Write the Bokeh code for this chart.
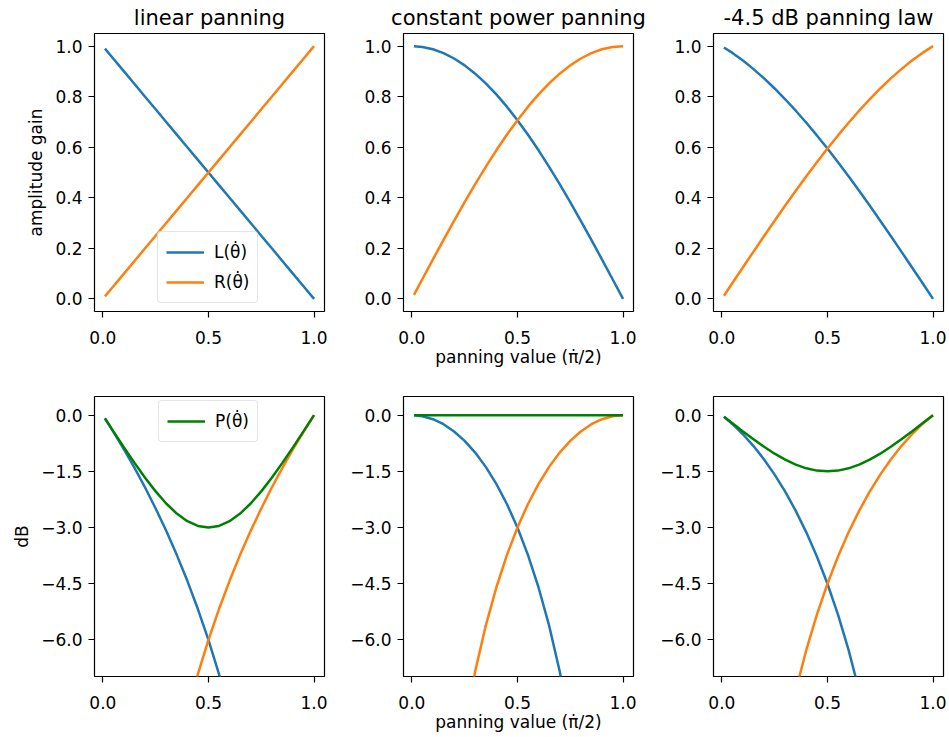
from bokeh.plotting import figure
from bokeh.layouts import column, row
from bokeh.models import FixedTicker, Legend, LegendItem
from bokeh.embed import file_html
from bokeh.resources import INLINE

nan = float("nan")

# panning value (x axis, in units of pi/2)
pan = [0.01, 0.05, 0.10, 0.15, 0.20, 0.25, 0.30, 0.35, 0.40, 0.45, 0.50,
       0.55, 0.60, 0.65, 0.70, 0.75, 0.80, 0.85, 0.90, 0.95, 1.00]

# amplitude gains (top row)
lin_L = [0.99, 0.95, 0.90, 0.85, 0.80, 0.75, 0.70, 0.65, 0.60, 0.55, 0.50,
         0.45, 0.40, 0.35, 0.30, 0.25, 0.20, 0.15, 0.10, 0.05, 0.00]
lin_R = [0.01, 0.05, 0.10, 0.15, 0.20, 0.25, 0.30, 0.35, 0.40, 0.45, 0.50,
         0.55, 0.60, 0.65, 0.70, 0.75, 0.80, 0.85, 0.90, 0.95, 1.00]
cp_L = [0.9999, 0.9969, 0.9877, 0.9724, 0.9511, 0.9239, 0.8910, 0.8526, 0.8090, 0.7604, 0.7071,
        0.6494, 0.5878, 0.5225, 0.4540, 0.3827, 0.3090, 0.2335, 0.1564, 0.0785, 0.0000]
cp_R = [0.0157, 0.0785, 0.1564, 0.2335, 0.3090, 0.3827, 0.4540, 0.5225, 0.5878, 0.6494, 0.7071,
        0.7604, 0.8090, 0.8526, 0.8910, 0.9239, 0.9511, 0.9724, 0.9877, 0.9969, 1.0000]
law_L = [0.9949, 0.9732, 0.9428, 0.9091, 0.8723, 0.8324, 0.7898, 0.7445, 0.6967, 0.6467, 0.5946,
         0.5406, 0.4849, 0.4276, 0.3691, 0.3093, 0.2486, 0.1871, 0.1251, 0.0626, 0.0000]
law_R = [0.0125, 0.0626, 0.1251, 0.1871, 0.2486, 0.3093, 0.3691, 0.4276, 0.4849, 0.5406, 0.5946,
         0.6467, 0.6967, 0.7445, 0.7898, 0.8324, 0.8723, 0.9091, 0.9428, 0.9732, 1.0000]

# levels in dB (bottom row)
lin_L_db = [-0.087, -0.446, -0.915, -1.412, -1.938, -2.499, -3.098, -3.742, -4.437, -5.193, -6.021,
            -6.936, -7.959, -9.119, -10.458, -12.041, -13.979, -16.478, -20.0, -26.021, nan]
lin_R_db = [-40.0, -26.021, -20.0, -16.478, -13.979, -12.041, -10.458, -9.119, -7.959, -6.936, -6.021,
            -5.193, -4.437, -3.742, -3.098, -2.499, -1.938, -1.412, -0.915, -0.446, 0.0]
lin_P_db = [-0.087, -0.434, -0.862, -1.278, -1.675, -2.041, -2.366, -2.636, -2.840, -2.967, -3.010,
            -2.967, -2.840, -2.636, -2.366, -2.041, -1.675, -1.278, -0.862, -0.434, 0.0]
cp_L_db = [-0.001, -0.027, -0.108, -0.243, -0.436, -0.688, -1.002, -1.385, -1.841, -2.379, -3.010,
           -3.749, -4.616, -5.638, -6.859, -8.343, -10.200, -12.636, -16.114, -22.107, nan]
cp_R_db = [-36.078, -22.107, -16.114, -12.636, -10.200, -8.343, -6.859, -5.638, -4.616, -3.749, -3.010,
           -2.379, -1.841, -1.385, -1.002, -0.688, -0.436, -0.243, -0.108, -0.027, 0.0]
cp_P_db = [0.0, 0.0, 0.0, 0.0, 0.0, 0.0, 0.0, 0.0, 0.0, 0.0, 0.0,
           0.0, 0.0, 0.0, 0.0, 0.0, 0.0, 0.0, 0.0, 0.0, 0.0]
law_L_db = [-0.044, -0.236, -0.511, -0.828, -1.187, -1.593, -2.050, -2.563, -3.139, -3.786, -4.516,
            -5.342, -6.287, -7.379, -8.658, -10.192, -12.090, -14.557, -18.057, -24.064, nan]
law_R_db = [-38.039, -24.064, -18.057, -14.557, -12.090, -10.192, -8.658, -7.379, -6.287, -5.342, -4.516,
            -3.786, -3.139, -2.563, -2.050, -1.593, -1.187, -0.828, -0.511, -0.236, 0.0]
law_P_db = [-0.044, -0.218, -0.436, -0.647, -0.848, -1.032, -1.192, -1.325, -1.424, -1.485, -1.505,
            -1.485, -1.424, -1.325, -1.192, -1.032, -0.848, -0.647, -0.436, -0.218, 0.0]

titles = ["linear panning", "constant power panning", "-4.5 dB panning law"]
x_ticks = [0.0, 0.5, 1.0]
x_tick_labels = ["0.0", "0.5", "1.0"]
gain_ticks = [0.0, 0.2, 0.4, 0.6, 0.8, 1.0]
gain_tick_labels = ["0.0", "0.2", "0.4", "0.6", "0.8", "1.0"]
db_ticks = [0.0, -1.5, -3.0, -4.5, -6.0]
db_tick_labels = ["0.0", "\u22121.5", "\u22123.0", "\u22124.5", "\u22126.0"]
x_label = "panning value (\u03c0\u0307/2)"
label_L = "L(\u03b8\u0307)"
label_R = "R(\u03b8\u0307)"
label_P = "P(\u03b8\u0307)"

C_L = "#1f77b4"
C_R = "#ff7f0e"
C_P = "#008000"
FONT = "DejaVu Sans"
FW, FH = 230, 280
LW = 2.5


def make_fig(left, right, top, bottom, y_range, yt, ytl, title=None, xlabel=None, ylabel=None):
    p = figure(width=left + FW + right, height=top + FH + bottom,
               x_range=(-0.0395, 1.0495), y_range=y_range,
               output_backend="svg", toolbar_location=None,
               min_border_left=left, min_border_right=right,
               min_border_top=top, min_border_bottom=bottom)
    p.grid.visible = False
    p.outline_line_color = "black"
    p.outline_line_width = 1.2
    p.outline_line_alpha = 1.0
    p.background_fill_color = "white"
    p.border_fill_color = "white"
    for ax, ticks, labels in ((p.xaxis, x_ticks, x_tick_labels), (p.yaxis, yt, ytl)):
        ax.ticker = FixedTicker(ticks=ticks)
        ax.major_label_overrides = {t: l for t, l in zip(ticks, labels)}
        ax.axis_line_color = None
        ax.major_tick_line_color = "black"
        ax.major_tick_line_width = 1.2
        ax.major_tick_out = 6
        ax.major_tick_in = 0
        ax.minor_tick_line_color = None
        ax.major_label_text_font = FONT
        ax.major_label_text_font_size = "17px"
        ax.major_label_text_color = "black"
        ax.axis_label_text_font = FONT
        ax.axis_label_text_font_size = "17px"
        ax.axis_label_text_font_style = "normal"
        ax.axis_label_text_color = "black"
    p.xaxis.major_label_standoff = 13
    p.yaxis.major_label_standoff = 6
    if xlabel:
        p.xaxis.axis_label = xlabel
        p.xaxis.axis_label_standoff = 0
    if ylabel:
        p.yaxis.axis_label = ylabel
        p.yaxis.axis_label_standoff = 6
    if title:
        p.title.text = title
        p.title.align = "center"
        p.title.text_font = FONT
        p.title.text_font_size = "21px"
        p.title.text_font_style = "normal"
        p.title.text_color = "black"
        p.title.standoff = 7
    return p


def style_legend(lg):
    lg.label_text_font = FONT
    lg.label_text_font_size = "17px"
    lg.label_text_color = "black"
    lg.glyph_width = 38
    lg.glyph_height = 24
    lg.label_height = 24
    lg.label_standoff = 10
    lg.spacing = 6
    lg.padding = 8
    lg.margin = 0
    lg.border_line_color = "#cccccc"
    lg.border_line_width = 1
    lg.background_fill_alpha = 0.8
    if "border_radius" in lg.properties():
        lg.border_radius = 4


lefts = [94, 58, 58]
rights = [21, 22, 6]
gain_sets = [(lin_L, lin_R), (cp_L, cp_R), (law_L, law_R)]
db_sets = [(lin_L_db, lin_R_db, lin_P_db), (cp_L_db, cp_R_db, cp_P_db), (law_L_db, law_R_db, law_P_db)]

top_row = []
for i in range(3):
    p = make_fig(lefts[i], rights[i], 33, 56, (-0.05, 1.05), gain_ticks, gain_tick_labels,
                 title=titles[i], xlabel=x_label if i == 1 else None,
                 ylabel="amplitude gain" if i == 0 else None)
    rl = p.line(pan, gain_sets[i][0], line_color=C_L, line_width=LW)
    rr = p.line(pan, gain_sets[i][1], line_color=C_R, line_width=LW)
    if i == 0:
        lg = Legend(items=[LegendItem(label=label_L, renderers=[rl]),
                           LegendItem(label=label_R, renderers=[rr])],
                    location=(63, 8))
        style_legend(lg)
        p.add_layout(lg)
    top_row.append(p)

bottom_row = []
for i in range(3):
    p = make_fig(lefts[i], rights[i], 27, 60, (-7.0, 0.5), db_ticks, db_tick_labels,
                 xlabel=x_label if i == 1 else None,
                 ylabel="dB" if i == 0 else None)
    p.line(pan, db_sets[i][0], line_color=C_L, line_width=LW)
    p.line(pan, db_sets[i][1], line_color=C_R, line_width=LW)
    rp = p.line(pan, db_sets[i][2], line_color=C_P, line_width=LW)
    if i == 0:
        lg = Legend(items=[LegendItem(label=label_P, renderers=[rp])],
                    location=(64, FH - 46))
        style_legend(lg)
        p.add_layout(lg)
    bottom_row.append(p)

layout = column(row(*top_row), row(*bottom_row))
open("out.html", "w").write(file_html(layout, INLINE))
